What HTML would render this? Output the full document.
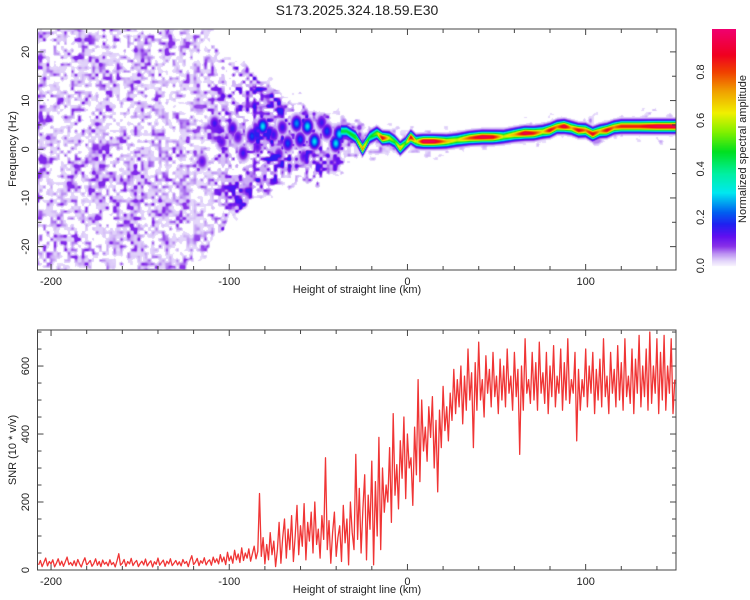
<!DOCTYPE html>
<html><head><meta charset="utf-8"><style>
body{margin:0;background:#fff;width:750px;height:600px;overflow:hidden;position:relative;font-family:"Liberation Sans",sans-serif}
canvas{position:absolute}
svg{position:absolute;left:0;top:0}
</style></head><body>
<canvas id="heat" width="639" height="241" style="left:37px;top:29px;width:639px;height:241px"></canvas>
<canvas id="cbar" width="24" height="241" style="left:712px;top:29px;width:24px;height:241px"></canvas>
<svg id="svg" width="750" height="600"></svg>
<script>
// ---- data ----
const ridgeKm  = [-34,-29,-25,-21,-17,-14,-10,-7,-4,-1,2,5,9,15,22,28,35,42,48,54,60,66,71,76,80,84,88,92,96,100,104,108,112,116,120,130,140,150];
const ridgeHz  = [3.7,2.5,0,2.5,3.3,2.3,2.3,1.6,0.2,1.2,2.5,1.6,1.6,1.6,1.6,1.9,2.3,2.5,2.5,2.6,3.0,3.3,3.3,3.6,3.9,4.6,4.7,4.4,3.9,3.9,3.1,3.7,3.9,4.5,4.7,4.7,4.7,4.7];
const ridgeAmp = [0.45,0.5,0.75,0.45,0.55,0.9,0.6,0.5,0.7,0.5,0.9,0.6,0.95,0.95,0.7,0.6,0.8,0.95,0.9,0.6,0.7,0.95,0.85,0.65,0.9,0.75,0.95,0.7,0.9,0.75,0.9,0.7,0.9,0.75,0.85,0.85,0.95,0.95];
const blobKm  = [-81,-108,-98,-87,-92,-67,-62,-56,-52,-60,-40,-45,-38,-115,-75,-72,-104,-95,-70,-48,-84,-58];
const blobHz  = [4.7,5.3,4.3,2.7,-0.8,1.2,5.3,4.7,1.6,2,1.2,3.7,3.1,-2.5,3,-1,1.5,2.5,4.5,5.5,0.5,-1.5];
const blobAmp = [0.3,0.15,0.15,0.2,0.15,0.2,0.25,0.3,0.3,0.2,0.3,0.2,0.3,0.12,0.15,0.12,0.12,0.12,0.15,0.15,0.12,0.12];
const noiseKm  = [-208,-180,-150,-125,-115,-100,-85,-70,-55,-40,-30,-10,10,40,80,120,151];
const noiseLo  = [-25,-25,-25,-25,-22,-14,-9,-7,-6,-5,-3,-1.5,-0.5,0.5,1.5,2.5,3];
const noiseHi  = [25,25,25,25,25,18,14,11,9,7,5,4,3.5,4,6,7,7];
const noiseLvl = [0.05,0.05,0.05,0.045,0.04,0.075,0.09,0.09,0.085,0.07,0.045,0.035,0.03,0.03,0.03,0.03,0.03];
const snrStart = -207;
const snrValues = [
15,28,10,22,35,12,25,18,30,9,20,33,14,26,11,24,38,16,22,13,
27,12,31,18,9,24,36,15,21,28,11,19,33,14,25,10,29,17,23,12,
30,16,22,9,27,48,14,20,31,11,25,18,34,13,22,28,10,19,26,15,
32,12,21,27,9,24,17,35,14,22,29,11,26,18,33,13,20,28,15,24,
12,31,19,25,10,28,42,16,23,34,13,27,20,36,15,25,30,14,38,22,
33,18,45,24,38,16,52,27,41,20,58,30,47,22,65,28,50,35,62,26,
48,70,33,55,225,40,95,18,75,30,110,45,85,10,60,140,20,95,150,35,
120,60,160,25,100,190,45,130,70,195,30,140,85,170,50,200,75,120,35,160,
90,330,60,145,20,110,170,40,95,130,25,190,80,150,15,200,110,60,340,90,
240,50,180,280,30,220,120,320,15,260,100,390,60,300,170,250,200,360,140,460,
220,310,180,380,270,450,210,400,300,330,190,420,280,560,260,500,350,420,320,480,
390,510,300,440,230,470,360,540,410,480,380,520,440,590,460,560,480,600,430,570,
470,650,500,580,360,610,470,670,500,560,450,630,520,590,480,640,510,570,460,620,
500,600,480,650,520,570,470,640,510,590,340,600,470,680,520,560,490,640,500,610,
470,670,520,580,490,640,460,600,510,660,480,570,520,650,470,610,500,680,490,560,
520,640,380,590,470,560,510,650,480,600,520,640,460,590,500,620,480,680,510,570,
460,640,520,590,480,660,500,610,470,680,510,570,490,650,460,620,520,690,480,600,
510,650,470,700,490,600,520,680,460,640,500,690,470,600,520,680,460,560];
const xTicks = [-200,-100,0,100];
const freqTicks = [-20,-10,0,10,20];
const snrTicks = [0,200,400,600];
const cbTicks = [0.0,0.2,0.4,0.6,0.8];

// ---- scales ----
const X0=37.5, X1=676;
const KM0=-207.6, KM1=150.7;
const xs = k => X0 + (k-KM0)/(KM1-KM0)*(X1-X0);
const TY0=29, TY1=270;
const HZ0=-24.8, HZ1=24.7;
const ys1 = h => TY1 - (h-HZ0)/(HZ1-HZ0)*(TY1-TY0);
const BY0=330, BY1=570;
const SNR1=706;
const ys2 = v => BY1 - v/SNR1*(BY1-BY0);
const cb = v => 265.6 - v*242;

function interp(xa, ya, x){
  if(x<=xa[0]) return ya[0];
  for(let i=1;i<xa.length;i++){ if(x<=xa[i]){const t=(x-xa[i-1])/(xa[i]-xa[i-1]);return ya[i-1]+t*(ya[i]-ya[i-1]);} }
  return ya[ya.length-1];
}
const cstops=[[0,[246,240,254]],[0.02,[226,212,250]],[0.05,[186,142,242]],[0.08,[136,48,232]],[0.12,[96,16,240]],[0.17,[32,32,240]],[0.22,[0,96,240]],[0.3,[0,232,240]],[0.38,[0,240,160]],[0.47,[0,224,32]],[0.55,[128,240,0]],[0.63,[240,240,0]],[0.72,[240,160,0]],[0.8,[240,64,0]],[0.87,[240,0,32]],[1,[240,0,128]]];
function cmap(v){
  v=Math.max(0,Math.min(1,v));
  for(let i=1;i<cstops.length;i++){ if(v<=cstops[i][0]){const a=cstops[i-1],b=cstops[i];const t=(v-a[0])/(b[0]-a[0]);return a[1].map((c,j)=>Math.round(c+t*(b[1][j]-c)));} }
  return cstops[cstops.length-1][1];
}
// speckle texture (visual only, not data)
function hsh(i,j){let h=Math.imul(i|0,374761393)+Math.imul(j|0,668265263);h=Math.imul(h^(h>>>13),1274126177);h^=h>>>16;return (h>>>0)/4294967296;}
function vnoise(x,y){const i=Math.floor(x),j=Math.floor(y);let fx=x-i,fy=y-j;fx=fx*fx*(3-2*fx);fy=fy*fy*(3-2*fy);
  const a=hsh(i,j),b=hsh(i+1,j),c=hsh(i,j+1),d=hsh(i+1,j+1);return a+(b-a)*fx+(c-a)*fy+(a-b-c+d)*fx*fy;}

// ---- heatmap ----
(function(){
  const c=document.getElementById('heat'), g=c.getContext('2d');
  const W=c.width,H=c.height, img=g.createImageData(W,H);
  for(let px=0;px<W;px++){
    const km=KM0+(px+0.5)/W*(KM1-KM0);
    const lo=interp(noiseKm,noiseLo,km), hi=interp(noiseKm,noiseHi,km), lvl=interp(noiseKm,noiseLvl,km);
    const rf=interp(ridgeKm,ridgeHz,km), ra=interp(ridgeKm,ridgeAmp,km);
    const inR = km>=-37;
    for(let py=0;py<H;py++){
      const hz=HZ1-(py+0.5)/H*(HZ1-HZ0);
      let v=0;
      const n=0.65*vnoise(px/3.5,py/3.5)+0.35*vnoise(px/10+50,py/10+50);
      const jit=(vnoise(px/8+20,py/8+7)-0.5)*4;
      if(hz>=lo-3 && hz<=hi+3){
        const edge=Math.max(0,Math.min(1,(Math.min(hz-lo,hi-hz)+jit+1)/2));
        const s1=Math.max(0,Math.min(1,(n-0.36)/0.08));
        const b=Math.max(0,Math.min(1,(n-0.5)/0.3));
        v=lvl*(0.42*s1+1.35*Math.pow(b,1.4))*edge;
        if(v<0.012) v=0;
      }
      if(inR){ const d=(hz-rf)/0.95; v=Math.max(v, ra*Math.exp(-d*d)); }
      for(let i=0;i<blobKm.length;i++){
        const dk=(km-blobKm[i])/2.6, dh=(hz-blobHz[i])/1.4;
        const e=dk*dk+dh*dh; if(e<9) v=Math.max(v, blobAmp[i]*Math.exp(-e));
      }
      const k=(py*W+px)*4;
      if(v<0.012){img.data[k]=255;img.data[k+1]=255;img.data[k+2]=255;}
      else{const col=cmap(v);img.data[k]=col[0];img.data[k+1]=col[1];img.data[k+2]=col[2];}
      img.data[k+3]=255;
    }
  }
  g.putImageData(img,0,0);
  const cc=document.getElementById('cbar'), cg=cc.getContext('2d');
  for(let py=0;py<cc.height;py++){
    const v=(265.6-(29+py+0.5))/242;
    const col=v<0?[255,255,255]:cmap(v);
    cg.fillStyle=`rgb(${col})`; cg.fillRect(0,py,24,1);
  }
})();

// ---- svg axes ----
const svg=document.getElementById('svg'), NS='http://www.w3.org/2000/svg';
function el(tag,attrs,parent){const e=document.createElementNS(NS,tag);for(const k in attrs)e.setAttribute(k,attrs[k]);(parent||svg).appendChild(e);return e;}
function text(str,x,y,attrs){const t=el('text',Object.assign({x:x,y:y,'font-size':11,fill:'#222','font-family':'Liberation Sans, sans-serif','text-anchor':'middle'},attrs||{}));t.textContent=str;return t;}

const title=text('S173.2025.324.18.59.E30',357,15,{'font-size':14});



function frame(y0,y1,name){
  const r=el('rect',{x:X0,y:y0,width:X1-X0,height:y1-y0,fill:'none',stroke:'#444','stroke-width':1});
  
  
  for(let k=-200;k<=140;k+=20){
    const x=xs(k), L=(k%100===0)?6:4;
    el('line',{x1:x,x2:x,y1:y1,y2:y1-L,stroke:'#444'});
    el('line',{x1:x,x2:x,y1:y0,y2:y0+L,stroke:'#444'});
  }
  xTicks.forEach(k=>{const t=text(String(k),xs(k),y1+15);
    
    });
  const xl=text('Height of straight line (km)',357,y1+23,{'font-size':11});
  
  
}
frame(TY0,TY1,'spectrogram-plot-frame');
frame(BY0,BY1,'snr-plot-frame');

for(let h=-20;h<=20;h+=5){const y=ys1(h),L=(h%10===0)?6:4;
  el('line',{x1:X0,x2:X0+L,y1:y,y2:y,stroke:'#444'});el('line',{x1:X1,x2:X1-L,y1:y,y2:y,stroke:'#444'});}
freqTicks.forEach(h=>{const t=text(String(h),29,ys1(h),{transform:`rotate(-90 29 ${ys1(h)})`});
  
  });
const yl1=text('Frequency (Hz)',16,149,{transform:'rotate(-90 16 149)'});



for(let v=0;v<=700;v+=50){const y=ys2(v),L=(v%200===0)?6:4;
  el('line',{x1:X0,x2:X0+L,y1:y,y2:y,stroke:'#444'});el('line',{x1:X1,x2:X1-L,y1:y,y2:y,stroke:'#444'});}
snrTicks.forEach(v=>{const t=text(String(v),29,ys2(v),{transform:`rotate(-90 29 ${ys2(v)})`});
  
  });
const yl2=text('SNR (10 * v/v)',16,450,{transform:'rotate(-90 16 450)'});



cbTicks.forEach(v=>{const y=cb(v);const t=text(v.toFixed(1),704,y,{transform:`rotate(-90 704 ${y})`});
  
  });
const cbt=text('Normalized spectral amplitude',746,149,{transform:'rotate(-90 746 149)'});



let d='';
snrValues.forEach((v,i)=>{const x=xs(snrStart+i), y=ys2(Math.min(v,SNR1));d+=(i?'L':'M')+x.toFixed(1)+','+y.toFixed(1);});
const clip=el('clipPath',{id:'c2'});el('rect',{x:X0,y:BY0,width:X1-X0,height:BY1-BY0},clip);
const line=el('path',{d:d,fill:'none',stroke:'#f03535','stroke-width':1.3,'stroke-linejoin':'round','clip-path':'url(#c2)'});


</script>
</body></html>
